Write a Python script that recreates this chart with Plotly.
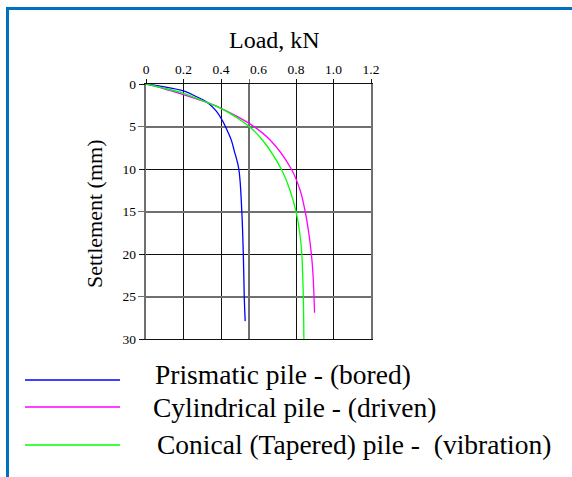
import plotly.graph_objects as go

# ---------------- data ----------------
X_TICKS = [0, 0.2, 0.4, 0.6, 0.8, 1.0, 1.2]
X_TICK_TEXT = ["0", "0.2", "0.4", "0.6", "0.8", "1.0", "1.2"]
Y_TICKS = [0, 5, 10, 15, 20, 25, 30]
X_GRID_DARK = [0.2, 0.4, 0.8, 1.0]
X_GRID_LIGHT = [0.55]
Y_GRID_DARK = [10, 20]
Y_GRID_LIGHT = [5, 15, 25]

SERIES_NAMES = ["Prismatic pile - (bored)",
                "Cylindrical pile - (driven)",
                "Conical (Tapered) pile -  (vibration)"]
SERIES_COLORS = ["#0000ff", "#ff00ff", "#00ff00"]

PRISMATIC_SETTLE = [0, 0.3, 0.8, 1.5, 2.2, 3.2, 4.2, 5.4, 6.6, 7.8, 10, 15, 20, 25, 27.9]
PRISMATIC_LOAD = [0, 0.09, 0.2, 0.27, 0.329, 0.375, 0.405, 0.432, 0.455, 0.47, 0.495, 0.511, 0.519, 0.524, 0.529]

CYLINDRICAL_SETTLE = [0, 0.5, 1.25, 2.2, 2.86, 4.63, 6.59, 10, 12.5, 15, 17.5, 20, 22.5, 25, 26.9]
CYLINDRICAL_LOAD = [0, 0.089, 0.2, 0.329, 0.4, 0.55, 0.662, 0.775, 0.822, 0.849, 0.868, 0.882, 0.891, 0.896, 0.899]

CONICAL_SETTLE = [0, 0.45, 1.1, 2.2, 2.86, 5.0, 6.59, 10, 12.5, 15, 17.5, 20, 25, 30]
CONICAL_LOAD = [0, 0.089, 0.2, 0.329, 0.4, 0.55, 0.621, 0.721, 0.768, 0.80, 0.82, 0.831, 0.839, 0.842]

# ---------------- layout geometry ----------------
W, H = 572, 477
L, R, T, B = 146, 201, 84, 138
PW, PH = W - L - R, H - T - B


def px_x(px):
    return (px - L) / PW


def px_y(py):
    return (H - B - py) / PH


SERIF = "Liberation Serif"
DARK = "#111111"
LIGHT = "#707070"

fig = go.Figure()
series = [(PRISMATIC_LOAD, PRISMATIC_SETTLE),
          (CYLINDRICAL_LOAD, CYLINDRICAL_SETTLE),
          (CONICAL_LOAD, CONICAL_SETTLE)]
for (xs, ys), name, col in zip(series, SERIES_NAMES, SERIES_COLORS):
    fig.add_trace(go.Scatter(x=xs, y=ys, mode="lines", name=name,
                             line=dict(color=col, width=1.3, shape="spline", smoothing=1.0),
                             showlegend=False, hoverinfo="skip"))

common_x = dict(range=[0, 1.2], zeroline=False)
common_y = dict(range=[30, 0], zeroline=False)

fig.update_layout(
    width=W, height=H,
    margin=dict(l=L, r=R, t=T, b=B, pad=0),
    paper_bgcolor="white", plot_bgcolor="white",
    font=dict(family=SERIF, color="black"),
    xaxis=dict(**common_x, side="top", tickvals=X_TICKS, ticktext=X_TICK_TEXT,
               ticks="", showgrid=False, showline=False, tickfont=dict(size=13.5, family=SERIF),
               ticklabelstandoff=6),
    xaxis2=dict(**common_x, overlaying="x", anchor="y", side="top", tickvals=X_GRID_DARK + [0, 1.2],
                showticklabels=False, ticks="outside", ticklen=4, tickcolor=DARK,
                showgrid=True, gridcolor=DARK, gridwidth=1,
                showline=True, linecolor=DARK, linewidth=1, mirror=True),
    xaxis3=dict(**common_x, overlaying="x", anchor="y", side="top", tickvals=X_GRID_LIGHT,
                showticklabels=False, ticks="outside", ticklen=4, tickcolor=LIGHT,
                showgrid=True, gridcolor=LIGHT, gridwidth=1.5, showline=False),
    yaxis=dict(**common_y, tickvals=Y_TICKS, ticks="", showgrid=False, showline=False,
               tickfont=dict(size=13.5, family=SERIF), ticklabelstandoff=9),
    yaxis2=dict(**common_y, overlaying="y", anchor="x", side="left", tickvals=Y_GRID_DARK + [0, 30],
                showticklabels=False, ticks="outside", ticklen=6, tickcolor=DARK,
                showgrid=True, gridcolor=DARK, gridwidth=1, showline=False),
    yaxis3=dict(**common_y, overlaying="y", anchor="x", side="left", tickvals=Y_GRID_LIGHT,
                showticklabels=False, ticks="outside", ticklen=6, tickcolor=LIGHT,
                showgrid=True, gridcolor=LIGHT, gridwidth=1.5,
                showline=True, linecolor=LIGHT, linewidth=1.5, mirror=True),
)

# empty traces so the overlay axes (grid lines) are drawn
fig.add_trace(go.Scatter(x=[None], y=[None], xaxis="x2", yaxis="y2", showlegend=False))
fig.add_trace(go.Scatter(x=[None], y=[None], xaxis="x3", yaxis="y3", showlegend=False))

# titles
fig.add_annotation(text="Load, kN", xref="paper", yref="paper",
                   x=px_x(274), y=px_y(40), xanchor="center", yanchor="middle",
                   showarrow=False, font=dict(size=24, family=SERIF))
fig.add_annotation(text="Settlement (mm)", xref="paper", yref="paper",
                   x=px_x(94), y=px_y(214), xanchor="center", yanchor="middle",
                   textangle=-90, showarrow=False, font=dict(size=22, family=SERIF))

# blue frame
BLUE = "#0070c0"
fig.add_shape(type="line", xref="paper", yref="paper",
              x0=px_x(7.5), x1=px_x(7.5), y0=px_y(7), y1=px_y(H + 2),
              line=dict(color=BLUE, width=3))
fig.add_shape(type="line", xref="paper", yref="paper",
              x0=px_x(6), x1=px_x(W + 2), y0=px_y(8.5), y1=px_y(8.5),
              line=dict(color=BLUE, width=3))

# legend (sample line + label for each series)
LEG_LINE_Y = [380, 407, 445]
LEG_TEXT_X = [153, 151, 155]
LEG_TEXT_Y = [374.5, 407.5, 444.5]
for name, col, ly, tx, ty in zip(SERIES_NAMES, SERIES_COLORS, LEG_LINE_Y, LEG_TEXT_X, LEG_TEXT_Y):
    fig.add_shape(type="line", xref="paper", yref="paper",
                  x0=px_x(25), x1=px_x(120), y0=px_y(ly), y1=px_y(ly),
                  line=dict(color=col, width=1.5))
    fig.add_annotation(text=name.replace("  ", "&nbsp; "), xref="paper", yref="paper",
                       x=px_x(tx), y=px_y(ty), xanchor="left", yanchor="middle",
                       showarrow=False, font=dict(size=27.5, family=SERIF))

fig.write_html("out.html")
